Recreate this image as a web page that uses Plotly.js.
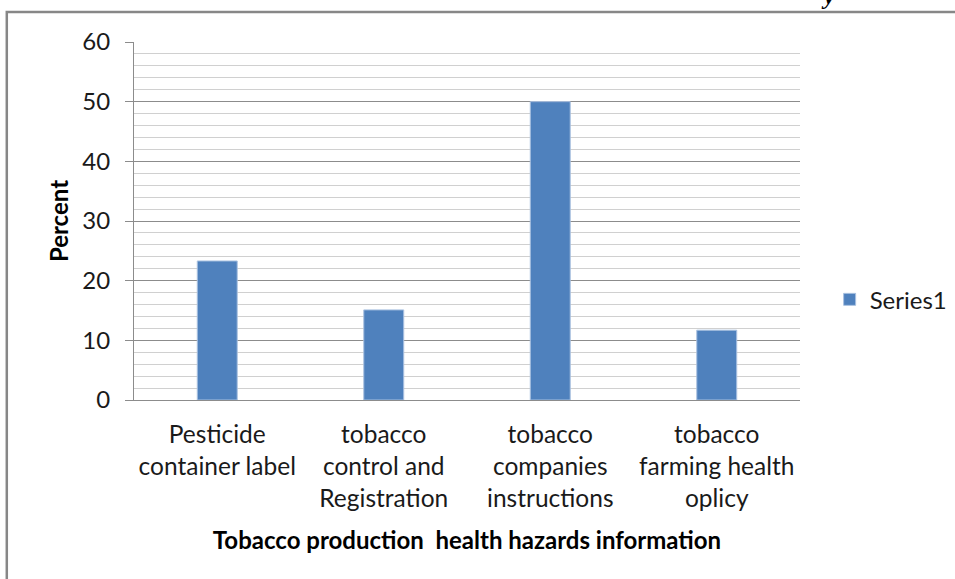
<!DOCTYPE html>
<html>
<head>
<meta charset="utf-8">
<script src="https://cdn.plot.ly/plotly-3.0.1.min.js"></script>
<style>
  html, body { margin: 0; padding: 0; background: #fff; }
  #chart { width: 955px; height: 579px; }
</style>
</head>
<body>
<div id="chart"></div>
<script>
// Sources of health-hazard information among tobacco producers
var categories = [
  "Pesticide<br>container label",
  "tobacco<br>control and<br>Registration",
  "tobacco<br>companies<br>instructions",
  "tobacco<br>farming health<br>oplicy"
];
var series1 = [23.3, 15.1, 50, 11.7];
var yTickValues = [0, 10, 20, 30, 40, 50, 60];

var font = "Lato, 'Open Sans', sans-serif";

var trace = {
  type: "bar",
  name: "Series1",
  x: categories,
  y: series1,
  width: 0.24,
  marker: { color: "#4f81bd", line: { color: "#a9c1e0", width: 1 } }
};

var layout = {
  width: 955,
  height: 579,
  margin: { l: 134, r: 155, t: 42, b: 179, autoexpand: false },
  paper_bgcolor: "#ffffff",
  plot_bgcolor: "#ffffff",
  showlegend: true,
  font: { family: font, color: "#1a1a1a", size: 24 },
  xaxis: {
    type: "category",
    showgrid: false,
    showline: true,
    linecolor: "#8c8c8c",
    linewidth: 1,
    ticks: "",
    ticklabelstandoff: 13,
    tickfont: { family: font, size: 24.5, color: "#1a1a1a" },
    title: {
      text: "<b>Tobacco production  health hazards information</b>",
      font: { family: font, size: 24, color: "#000" },
      standoff: 21
    },
    automargin: false,
    fixedrange: true
  },
  yaxis: {
    range: [0, 60],
    tickvals: yTickValues,
    ticks: "outside",
    ticklen: 8,
    tickcolor: "#8c8c8c",
    showline: true,
    linecolor: "#8c8c8c",
    linewidth: 1,
    showgrid: true,
    gridcolor: "#8c8c8c",
    gridwidth: 1,
    zeroline: false,
    minor: { dtick: 2, showgrid: true, gridcolor: "#d0d0d0", gridwidth: 1, ticks: "" },
    ticklabelstandoff: 10,
    tickfont: { family: font, size: 24, color: "#1a1a1a" },
    title: {
      text: "<b>Percent</b>",
      font: { family: font, size: 24, color: "#000" },
      standoff: 6
    },
    automargin: false,
    fixedrange: true
  },
  legend: {
    x: 1.0445,
    y: 0.28,
    xanchor: "left",
    yanchor: "middle",
    font: { family: font, size: 24, color: "#1a1a1a" },
    bgcolor: "rgba(0,0,0,0)",
    itemwidth: 30
  },
  shapes: [
    {
      type: "path", xref: "paper", yref: "paper",
      path: "M -0.191 -0.6 L -0.191 1.084 L 1.4 1.084",
      line: { color: "#878787", width: 2.5 }
    }
  ],
  annotations: [
    {
      xref: "paper", yref: "paper",
      x: 1.042, y: 1.128,
      xanchor: "center", yanchor: "middle",
      text: "<b><i>y</i></b>",
      showarrow: false,
      font: { family: "'Liberation Serif', 'DejaVu Serif', serif", size: 24, color: "#000" }
    }
  ]
};

Plotly.newPlot("chart", [trace], layout, { displayModeBar: false, staticPlot: true });
</script>
</body>
</html>
